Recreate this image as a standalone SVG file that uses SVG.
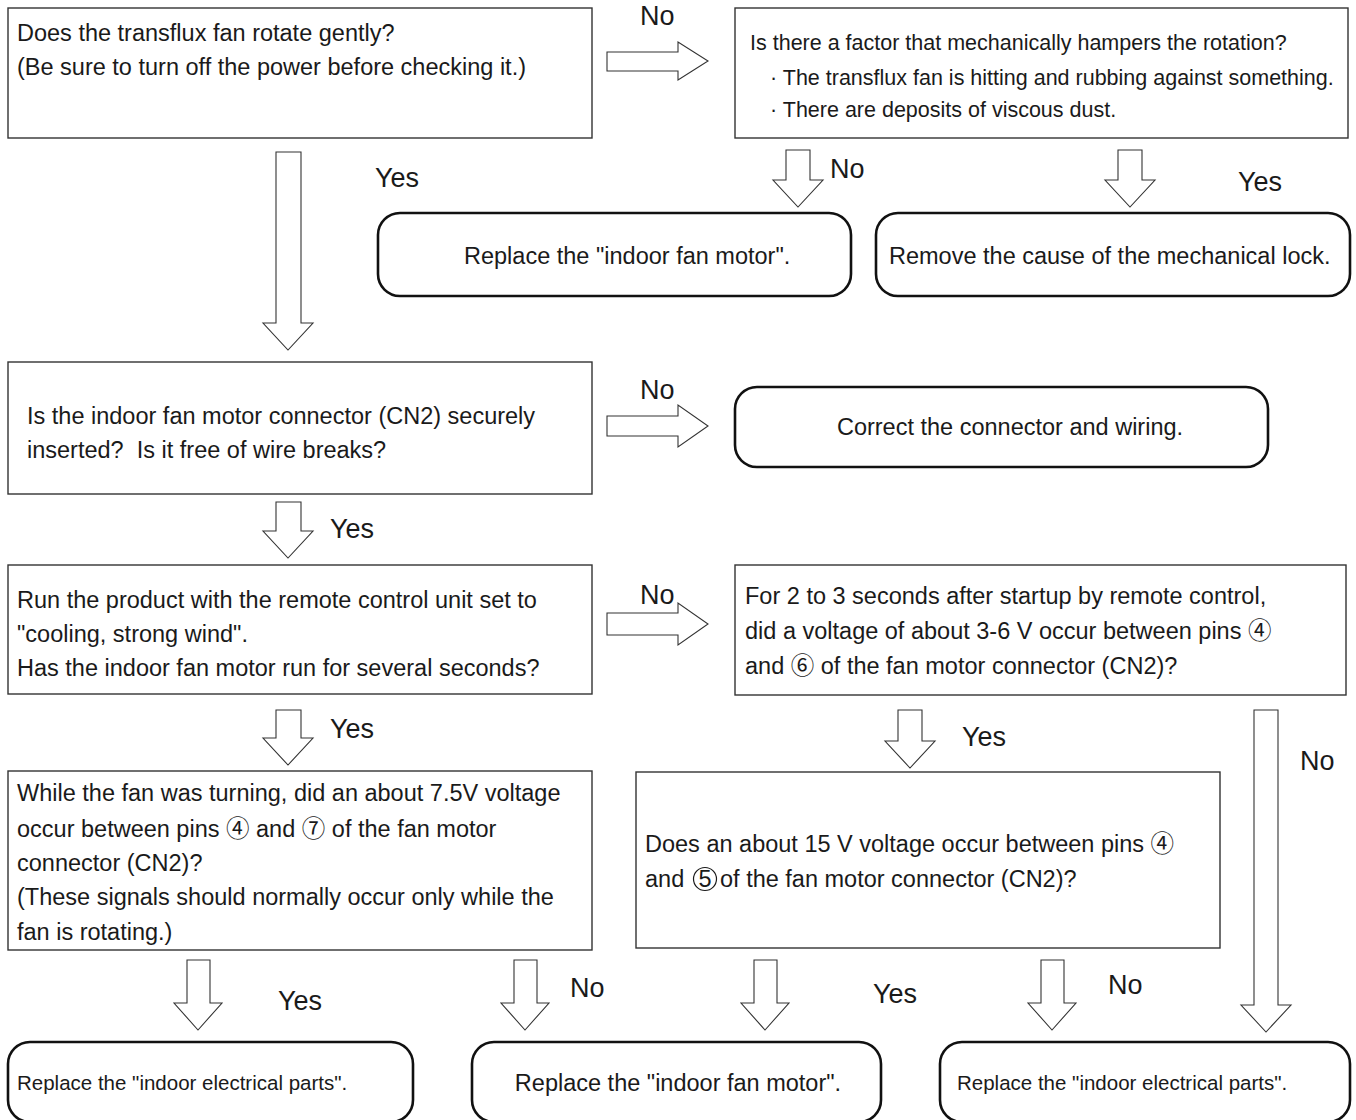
<svg xmlns="http://www.w3.org/2000/svg" width="1356" height="1120" viewBox="0 0 1356 1120">
<style>
text{font-family:"Liberation Sans","Noto Sans CJK JP",sans-serif;fill:#1a1a1a;}
.q{font-size:23.5px;}
.q2{font-size:21.5px;}
.lab{font-size:27px;}
.sm{font-size:20.5px;}
.box{fill:#fff;stroke:#333;stroke-width:1.4;}
.rbox{fill:#fff;stroke:#111;stroke-width:2.6;}
.arr{fill:#fff;stroke:#333;stroke-width:1.1;stroke-linejoin:miter;}
</style>
<rect width="1356" height="1120" fill="#fff"/>
<g id="connectors">
<path class="arr" d="M607,52 H678 V42 L708,61 L678,80 V71 H607 Z"/>
<path class="arr" d="M607,416 H678 V405 L708,426 L678,447 V436 H607 Z"/>
<path class="arr" d="M607,613 H678 V603 L708,624 L678,645 V635 H607 Z"/>
<path class="arr" d="M276,152 H301 V323 H313 L288,350 L263,323 H276 Z"/>
<path class="arr" d="M786,150 H810 V180 H823 L798,207 L773,180 H786 Z"/>
<path class="arr" d="M1118,150 H1142 V180 H1155 L1130,207 L1105,180 H1118 Z"/>
<path class="arr" d="M276,502 H301 V531 H313 L288,558 L263,531 H276 Z"/>
<path class="arr" d="M276,710 H301 V738 H313 L288,765 L263,738 H276 Z"/>
<path class="arr" d="M898,710 H922 V741 H935 L910,768 L885,741 H898 Z"/>
<path class="arr" d="M1254,710 H1278 V1005 H1291 L1266,1032 L1241,1005 H1254 Z"/>
<path class="arr" d="M187,960 H210 V1003 H222 L198,1030 L174,1003 H187 Z"/>
<path class="arr" d="M514,960 H537 V1003 H549 L525,1030 L501,1003 H514 Z"/>
<path class="arr" d="M754,960 H777 V1003 H789 L765,1030 L741,1003 H754 Z"/>
<path class="arr" d="M1041,960 H1064 V1003 H1076 L1052,1030 L1028,1003 H1041 Z"/>
<text class="lab" x="640" y="25">No</text>
<text class="lab" x="375" y="187">Yes</text>
<text class="lab" x="830" y="178">No</text>
<text class="lab" x="1238" y="191">Yes</text>
<text class="lab" x="640" y="399">No</text>
<text class="lab" x="330" y="538">Yes</text>
<text class="lab" x="640" y="604">No</text>
<text class="lab" x="330" y="738">Yes</text>
<text class="lab" x="962" y="746">Yes</text>
<text class="lab" x="1300" y="770">No</text>
<text class="lab" x="278" y="1010">Yes</text>
<text class="lab" x="570" y="997">No</text>
<text class="lab" x="873" y="1003">Yes</text>
<text class="lab" x="1108" y="994">No</text>
</g>
<g id="q1">
<rect class="box" x="8" y="8" width="584" height="130"/>
<text class="q" x="17" y="41">Does the transflux fan rotate gently?</text>
<text class="q" x="17" y="75">(Be sure to turn off the power before checking it.)</text>
</g>
<g id="q2">
<rect class="box" x="735" y="8" width="613" height="130"/>
<text class="q2" x="750" y="50">Is there a factor that mechanically hampers the rotation?</text>
<text class="q2" x="770" y="85">· The transflux fan is hitting and rubbing against something.</text>
<text class="q2" x="770" y="117">· There are deposits of viscous dust.</text>
</g>
<g id="r1">
<rect class="rbox" x="378" y="213" width="473" height="83" rx="22"/>
<text class="q" x="464" y="264">Replace the "indoor fan motor".</text>
</g>
<g id="r2">
<rect class="rbox" x="876" y="213" width="474" height="83" rx="22"/>
<text class="q" x="889" y="264">Remove the cause of the mechanical lock.</text>
</g>
<g id="q3">
<rect class="box" x="8" y="362" width="584" height="132"/>
<text class="q" x="27" y="424">Is the indoor fan motor connector (CN2) securely</text>
<text class="q" x="27" y="458">inserted?&#160; Is it free of wire breaks?</text>
</g>
<g id="r3">
<rect class="rbox" x="735" y="387" width="533" height="80" rx="22"/>
<text class="q" x="1010" y="435" text-anchor="middle">Correct the connector and wiring.</text>
</g>
<g id="q4">
<rect class="box" x="8" y="565" width="584" height="129"/>
<text class="q" x="17" y="608">Run the product with the remote control unit set to</text>
<text class="q" x="17" y="642">"cooling, strong wind".</text>
<text class="q" x="17" y="676">Has the indoor fan motor run for several seconds?</text>
</g>
<g id="q5">
<rect class="box" x="735" y="565" width="611" height="130"/>
<text class="q" x="745" y="604">For 2 to 3 seconds after startup by remote control,</text>
<text class="q" x="745" y="639">did a voltage of about 3-6 V occur between pins ④</text>
<text class="q" x="745" y="674">and ⑥ of the fan motor connector (CN2)?</text>
</g>
<g id="q6">
<rect class="box" x="8" y="771" width="584" height="179"/>
<text class="q" x="17" y="801">While the fan was turning, did an about 7.5V voltage</text>
<text class="q" x="17" y="837">occur between pins ④ and ⑦ of the fan motor</text>
<text class="q" x="17" y="871">connector (CN2)?</text>
<text class="q" x="17" y="905">(These signals should normally occur only while the</text>
<text class="q" x="17" y="940">fan is rotating.)</text>
</g>
<g id="q7">
<rect class="box" x="636" y="772" width="584" height="176"/>
<text class="q" x="645" y="852">Does an about 15 V voltage occur between pins ④</text>
<text class="q" x="645" y="887">and</text>
<circle cx="705" cy="879" r="11.5" fill="none" stroke="#1a1a1a" stroke-width="1.2"/>
<text class="q" x="705" y="887" text-anchor="middle">5</text>
<text class="q" x="720" y="887">of the fan motor connector (CN2)?</text>
</g>
<g id="r4">
<rect class="rbox" x="8" y="1042" width="405" height="80" rx="22"/>
<text class="sm" x="17" y="1090">Replace the "indoor electrical parts".</text>
</g>
<g id="r5">
<rect class="rbox" x="472" y="1042" width="409" height="80" rx="22"/>
<text class="q" x="678" y="1091" text-anchor="middle">Replace the "indoor fan motor".</text>
</g>
<g id="r6">
<rect class="rbox" x="940" y="1042" width="410" height="80" rx="22"/>
<text class="sm" x="957" y="1090">Replace the "indoor electrical parts".</text>
</g>
</svg>
